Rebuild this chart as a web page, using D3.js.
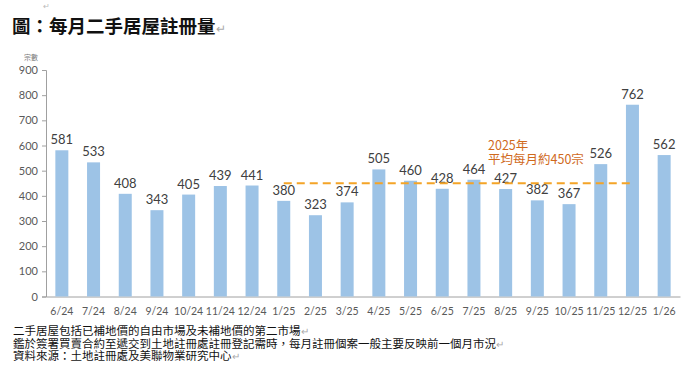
<!DOCTYPE html>
<html lang="zh-Hant">
<head>
  <meta charset="UTF-8">
  <title>每月二手居屋註冊量</title>
  <script src="https://d3js.org/d3.v7.min.js"></script>
  <style>
    body { margin: 0; padding: 0; background: #fff; }
    svg { display: block; }
    .cjk { font-family: "Noto Sans CJK TC", "Noto Sans", sans-serif; }
    .num { font-family: Lato, "Open Sans", sans-serif; }
  </style>
</head>
<body>
  <svg width="681" height="369"></svg>
  <script>
    const months = ["6/24", "7/24", "8/24", "9/24", "10/24", "11/24", "12/24",
      "1/25", "2/25", "3/25", "4/25", "5/25", "6/25", "7/25", "8/25", "9/25",
      "10/25", "11/25", "12/25", "1/26"];
    const registrations = [581, 533, 408, 343, 405, 439, 441, 380, 323, 374,
      505, 460, 428, 464, 427, 382, 367, 526, 762, 562];
    const yTicks = [0, 100, 200, 300, 400, 500, 600, 700, 800, 900];
    const avg2025 = 450;
    const avgFrom = "1/25", avgTo = "12/25";
    const notes = [
      "二手居屋包括已補地價的自由市場及未補地價的第二市場",
      "鑑於簽署買賣合約至遞交到土地註冊處註冊登記需時，每月註冊個案一般主要反映前一個月市況",
      "資料來源：土地註冊處及美聯物業研究中心"
    ];

    const svg = d3.select("svg");
    const plotLeft = 46, plotRight = 680, plotTop = 70, plotBottom = 296.5;

    const x = d3.scaleBand()
      .domain(months)
      .range([plotLeft, plotRight])
      .paddingInner(0.59)
      .paddingOuter(0.295);

    const y = d3.scaleLinear()
      .domain([0, 900])
      .range([plotBottom, plotTop]);

    // title
    const title = svg.append("text")
      .attr("class", "cjk")
      .attr("x", 12).attr("y", 33)
      .style("font-size", "18.5px").style("font-weight", 600).style("fill", "#111");
    title.append("tspan").text("圖：每月二手居屋註冊量");
    title.append("tspan").style("fill", "#aaa").style("font-weight", 400)
      .style("font-size", "12px").text("↵");

    svg.append("text").attr("class", "cjk")
      .attr("x", 43).attr("y", 9)
      .style("font-size", "8px").style("fill", "#bbb").text("↵");

    // unit label
    svg.append("text").attr("class", "cjk")
      .attr("x", 31).attr("y", 60)
      .attr("text-anchor", "middle")
      .style("font-size", "7px").style("fill", "#777")
      .text("宗數");

    // y axis
    const yAxis = svg.append("g")
      .attr("transform", `translate(${plotLeft},0)`)
      .call(d3.axisLeft(y).tickValues(yTicks).tickSize(4).tickPadding(4));
    yAxis.selectAll("path, line").attr("stroke", "#a0a0a0");
    yAxis.selectAll("text").attr("class", "num")
      .style("font-size", "11px").style("fill", "#595959");

    // x axis
    const xAxis = svg.append("g")
      .attr("transform", `translate(0,${plotBottom})`)
      .call(d3.axisBottom(x).tickSize(0).tickPadding(11).tickSizeOuter(0));
    xAxis.select("path").attr("stroke", "#a0a0a0");
    xAxis.selectAll("text").attr("class", "num")
      .style("font-size", "10.5px").style("fill", "#595959");

    // bars
    svg.append("g").selectAll("rect")
      .data(registrations)
      .join("rect")
      .attr("x", (d, i) => x(months[i]))
      .attr("y", d => y(d))
      .attr("width", x.bandwidth())
      .attr("height", d => plotBottom - y(d))
      .attr("fill", "#9dc3e6");

    // value labels
    svg.append("g").selectAll("text")
      .data(registrations)
      .join("text")
      .attr("class", "num")
      .attr("x", (d, i) => x(months[i]) + x.bandwidth() / 2)
      .attr("y", d => y(d) - 6)
      .attr("text-anchor", "middle")
      .style("font-size", "13px").style("fill", "#404040")
      .text(d => d);

    // 2025 average line
    svg.append("line")
      .attr("x1", x(avgFrom) + x.bandwidth() / 2)
      .attr("x2", x(avgTo) + x.bandwidth() / 2)
      .attr("y1", y(avg2025)).attr("y2", y(avg2025))
      .attr("stroke", "#f4a427")
      .attr("stroke-width", 2.2)
      .attr("stroke-dasharray", "8,5");

    const avgLabel = svg.append("text").attr("class", "cjk")
      .attr("x", 488).attr("y", 150)
      .style("font-size", "12.5px").style("fill", "#d0691c");
    avgLabel.append("tspan").attr("x", 488).text("2025年");
    avgLabel.append("tspan").attr("x", 488).attr("dy", 14).text("平均每月約" + avg2025 + "宗");

    // footnotes
    svg.append("g").selectAll("text")
      .data(notes)
      .join("text")
      .attr("class", "cjk")
      .attr("x", 13)
      .attr("y", (d, i) => 335 + i * 12.5)
      .style("font-size", "11.5px").style("fill", "#111")
      .each(function(d) {
        const t = d3.select(this);
        t.append("tspan").text(d);
        t.append("tspan").style("fill", "#aaa").style("font-size", "10px").text("↵");
      });
  </script>
</body>
</html>
